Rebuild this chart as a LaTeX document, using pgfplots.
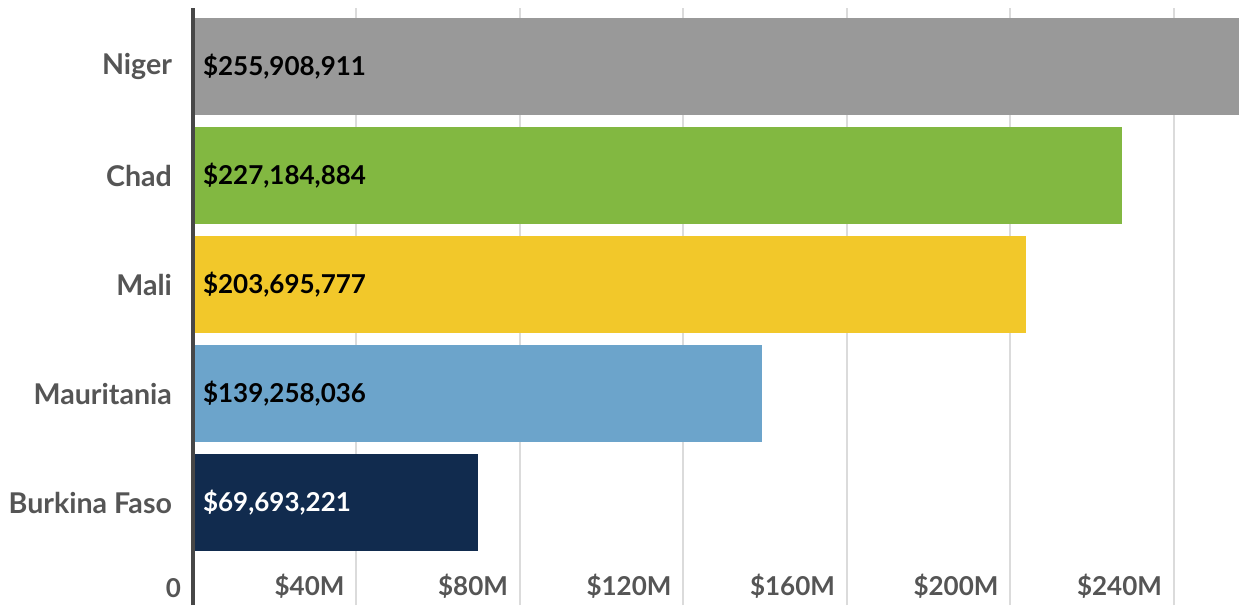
\documentclass[border=0pt]{standalone}
\usepackage{pgfplots}
\pgfplotsset{compat=1.18}
\usepackage{fontspec}
\setmainfont{Lato}
\definecolor{niger}{HTML}{999999}
\definecolor{chad}{HTML}{82B841}
\definecolor{mali}{HTML}{F2C82A}
\definecolor{maur}{HTML}{6CA4CB}
\definecolor{burk}{HTML}{112B4E}
\definecolor{lab}{HTML}{555555}
\begin{document}
\begin{tikzpicture}
\begin{axis}[
    scale only axis,
    width=523pt, height=298.5pt,
    xmin=0, xmax=255908911,
    ymin=-0.94, ymax=4.537,
    axis x line*=bottom,
    x axis line style={draw=none},
    axis y line*=left,
    y axis line style={draw=none},
    xtick={0,40000000,80000000,120000000,160000000,200000000,240000000},
    xticklabels={0,\$40M,\$80M,\$120M,\$160M,\$200M,\$240M},
    ytick={0,1,2,3,4},
    yticklabels={Burkina Faso,Mauritania,Mali,Chad,Niger},
    major tick length=0pt,
    xmajorgrids,
    grid style={draw=black!14, line width=1pt},
    xticklabel style={anchor=south east, xshift=-2.5pt, font=\fontsize{13}{15}\selectfont\bfseries, text=lab},
    yticklabel style={anchor=east, xshift=-7pt, font=\fontsize{14.3}{16}\selectfont\bfseries, text=lab},
    scaled x ticks=false,
    clip=false,
]
\addplot[xbar, bar width=48.5pt, bar shift=0pt, fill=niger, draw=none] coordinates {(255908911,4)};
\addplot[xbar, bar width=48.5pt, bar shift=0pt, fill=chad, draw=none] coordinates {(227184884,3)};
\addplot[xbar, bar width=48.5pt, bar shift=0pt, fill=mali, draw=none] coordinates {(203695777,2)};
\addplot[xbar, bar width=48.5pt, bar shift=0pt, fill=maur, draw=none] coordinates {(139258036,1)};
\addplot[xbar, bar width=48.5pt, bar shift=0pt, fill=burk, draw=none] coordinates {(69693221,0)};
% left axis line drawn over the bar starts
\addplot[draw=black!72, line width=2pt, mark=none] coordinates {(0,-0.94) (0,4.537)};
% value labels at the bar starts
\addplot[draw=none, mark=none, nodes near coords, point meta=explicit symbolic,
    nodes near coords style={anchor=west, xshift=1.5pt, text=black, font=\fontsize{13}{15}\selectfont\bfseries}]
    coordinates {(0,4) [\$255,908,911] (0,3) [\$227,184,884] (0,2) [\$203,695,777] (0,1) [\$139,258,036]};
\addplot[draw=none, mark=none, nodes near coords, point meta=explicit symbolic,
    nodes near coords style={anchor=west, xshift=1.5pt, text=white, font=\fontsize{13}{15}\selectfont\bfseries}]
    coordinates {(0,0) [\$69,693,221]};
\end{axis}
\path ([yshift=4pt]current axis.north east) ([xshift=-96.5pt]current axis.south west);
\end{tikzpicture}
\end{document}
